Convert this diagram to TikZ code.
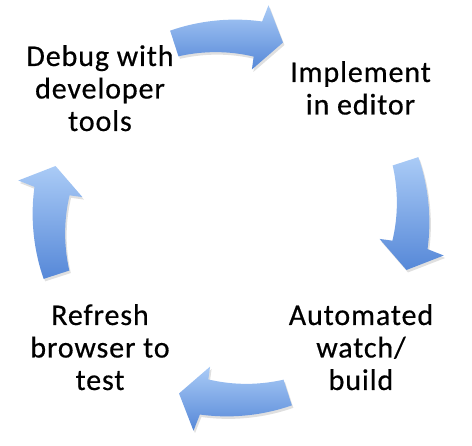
\documentclass[tikz,border=0pt]{standalone}
\usepackage{fontspec}
\setmainfont{Carlito}[LetterSpace=3,FakeBold=0.5]
\definecolor{arrlight}{RGB}{170,203,246}
\definecolor{arrdark}{RGB}{86,136,216}
\tikzset{
  x=1pt, y=1pt,
  cyclearrow/.style={top color=arrlight, bottom color=arrdark, draw=none},
  arrowshadow/.style={fill=black, fill opacity=0.12, draw=none},
  steplabel/.style={anchor=base, inner sep=0pt, font=\fontsize{30}{32.5}\selectfont}
}
\begin{document}
\begin{tikzpicture}
\useasboundingbox (0,0) rectangle (472,-446);
\begin{scope}[shift={(231,-218)}]
\foreach \a in {0,-90,-180,-270}{
  \fill[arrowshadow, shift={(1.5,-2.5)}]
    (\a+108:197) -- plot[domain=\a+108:\a+81, samples=20] (\x:{197+2*(\a+108-\x)/27})
    -- (\a+80:216) -- (\a+73.5:183) -- (\a+82:150) -- (\a+82:163)
    -- plot[domain=\a+82:\a+108, samples=20] (\x:{163+7*(\x-\a-82)/26}) -- cycle;
  \shade[cyclearrow]
    (\a+108:197) -- plot[domain=\a+108:\a+81, samples=20] (\x:{197+2*(\a+108-\x)/27})
    -- (\a+80:216) -- (\a+73.5:183) -- (\a+82:150) -- (\a+82:163)
    -- plot[domain=\a+82:\a+108, samples=20] (\x:{163+7*(\x-\a-82)/26}) -- cycle;
}
\end{scope}
\node[steplabel] (debug) at (100,-66) {\begin{tabular}[t]{@{}c@{}}Debug with\\developer\\tools\end{tabular}};
\node[steplabel] (impl) at (360.5,-82) {\begin{tabular}[t]{@{}c@{}}Implement\\in editor\end{tabular}};
\node[steplabel] (auto) at (361,-325) {\begin{tabular}[t]{@{}c@{}}Automated\\watch/\\build\end{tabular}};
\node[steplabel] (refresh) at (100,-325) {\begin{tabular}[t]{@{}c@{}}Refresh\\browser to\\test\end{tabular}};
\end{tikzpicture}
\end{document}
